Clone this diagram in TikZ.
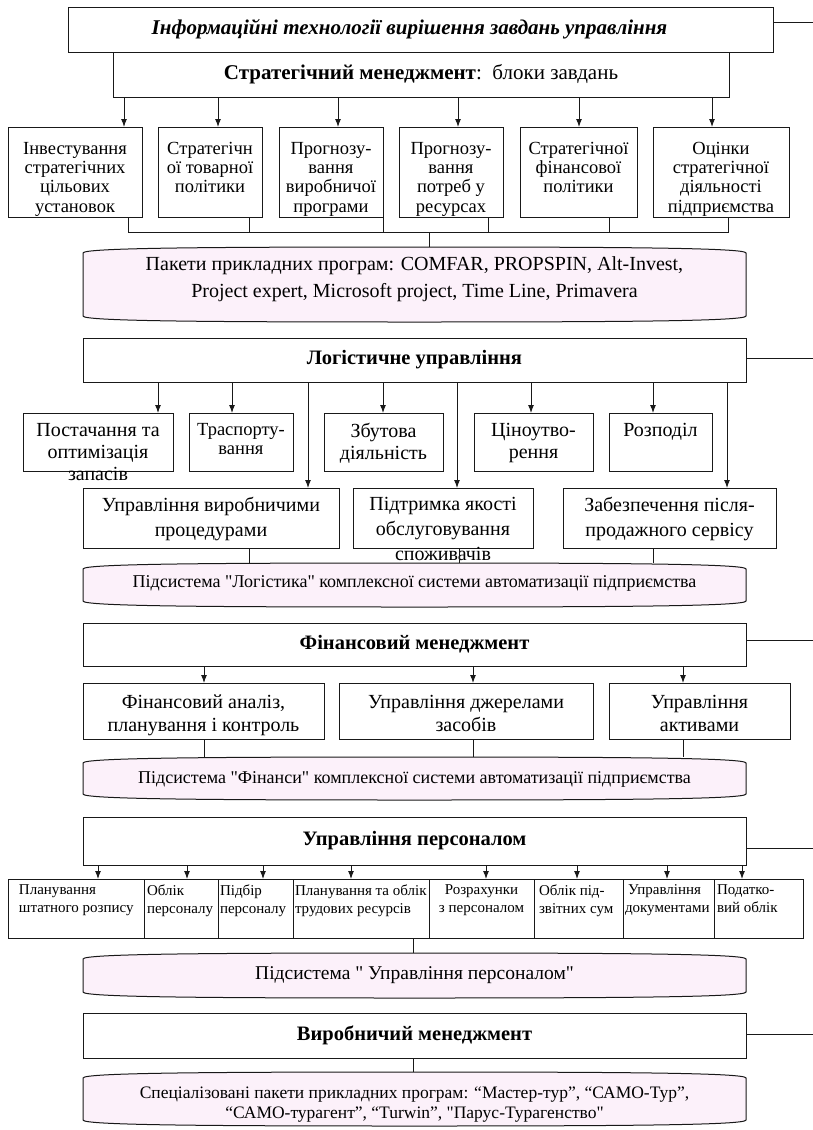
\documentclass[tikz,border=0pt]{standalone}
\usepackage{fontspec}
\setmainfont{Liberation Serif}
% same face without the TeX input mapping, so that " stays a straight quote
\newfontfamily\plainfam{Liberation Serif}[Ligatures=ResetAll]
\usetikzlibrary{arrows.meta,calc,backgrounds}

\definecolor{ink}{RGB}{25,25,25}
\definecolor{pkgfill}{RGB}{252,241,250}

\newcommand\fsz[2]{\fontsize{#1}{#2}\selectfont}
\newcommand\dq{{\plainfam\char34}}

% framed block with text set from its top edge: name, x1, y1, x2, y2, top pad, format, text
\newcommand\tb[8]{%
  \node[cell] (#1) at ({(#2+#4)/2},{(#3+#5)/2})
    {\parbox[c][\dimexpr#5pt-#3pt\relax][t]{\dimexpr#4pt-#2pt\relax}{\vspace*{#6pt}#7#8\par}};}

% heading block with centred text: name, x1, y1, x2, y2, text
\newcommand\hb[6]{%
  \node[cell,minimum width={#4-#2},minimum height={#5-#3},font=\fsz{20.5}{24}\bfseries] (#1)
    at ({(#2+#4)/2},{(#3+#5)/2}) {#6};}

% software package block with bulged top and bottom: name, x1, y1, x2, y2, text options, text
\newcommand\pk[7]{%
  \node[pkgbox,minimum width={#4-#2},minimum height={#5-#3},
        label={[pkgtext,#6]center:{#7}}] (#1)
    at ({(#2+#4)/2},{(#3+#5)/2}) {};
  \begin{pgfonlayer}{background}
    \path[pkgshape]
      ($(#1.north west)+(0,6)$) .. controls ($(#1.north west)+(0,1)$) and ($(#1.north west)!0.35!(#1.north)$) .. (#1.north)
      .. controls ($(#1.north east)!0.35!(#1.north)$) and ($(#1.north east)+(0,1)$) .. ($(#1.north east)+(0,6)$)
      -- ($(#1.south east)-(0,6)$)
      .. controls ($(#1.south east)-(0,1)$) and ($(#1.south east)!0.35!(#1.south)$) .. (#1.south)
      .. controls ($(#1.south west)!0.35!(#1.south)$) and ($(#1.south west)-(0,1)$) .. ($(#1.south west)-(0,6)$)
      -- cycle;
  \end{pgfonlayer}}

\begin{document}
\begin{tikzpicture}[x=1pt,y=-1pt,
  cell/.style={draw=ink,line width=1pt,inner sep=0pt,outer sep=0pt,text=black},
  pkgbox/.style={inner sep=0pt,outer sep=0pt},
  pkgtext/.style={inner sep=0pt,outer sep=0pt,align=center,text=black},
  pkgshape/.style={fill=pkgfill,draw=ink,line width=1pt},
  link/.style={draw=ink,line width=1pt},
  arr/.style={link,-{Latex[length=8pt,width=6pt]}}]
\useasboundingbox (0,0) rectangle (813,1130);

% ---------------- strategic management
\hb{top}{68}{7}{773}{52}{\fontsize{21}{24}\selectfont\itshape Інформаційні технології вирішення завдань управління\hspace*{22pt}}
\hb{strat}{113}{52}{729}{97}{\fontsize{21}{24}\selectfont Стратегічний менеджмент\mdseries:\ \ блоки завдань}

\tb{s1}{8}{127}{142}{217}{15}{\fsz{18.5}{19.3}\centering}{Інвестування\\стратегічних\\цільових\\установок}
\tb{s2}{158}{127}{262}{217}{15}{\fsz{18.5}{19.3}\centering}{Стратегічн\\ої товарної\\політики}
\tb{s3}{279}{127}{383}{217}{15}{\fsz{18.5}{19.3}\centering}{Прогнозу-\\вання\\виробничої\\програми}
\tb{s4}{399}{127}{503}{217}{15}{\fsz{18.5}{19.3}\centering}{Прогнозу-\\вання\\потреб у\\ресурсах}
\tb{s5}{520}{127}{637}{217}{15}{\fsz{18.5}{19.3}\centering}{Стратегічної\\фінансової\\політики}
\tb{s6}{653}{127}{789}{217}{15}{\fsz{18.5}{19.3}\centering}{Оцінки\\стратегічної\\діяльності\\підприємства}

\pk{c1}{83}{247}{746}{322}{font=\fsz{20}{27},yshift=5pt}{Пакети прикладних програм: COMFAR, PROPSPIN, Alt-Invest,\\Project expert, Microsoft project, Time Line, Primavera}

\foreach \n/\x in {s1/124,s2/218,s3/338,s4/458,s5/579,s6/712}
  \draw[arr] (strat.south -| \x,0) -- (\n.north -| \x,0);
\coordinate (bus) at (429,232);
\foreach \n/\x in {s1/128,s2/249,s3/383,s4/488,s5/609,s6/728}
  \draw[link] (\n.south -| \x,0) |- (bus);
\draw[link] (bus) -- (c1.north -| bus);

% ---------------- logistics
\hb{log}{83}{338}{746}{382}{Логістичне управління}

\tb{a1}{23}{413}{173}{471}{10}{\fsz{20}{22}\centering}{Постачання та\\оптимізація\\запасів}
\tb{a2}{189}{413}{293}{471}{10}{\fsz{18.5}{19}\centering}{Траспорту-\\вання}
\tb{a3}{324}{413}{443}{471}{10}{\fsz{20}{22}\centering}{Збутова\\діяльність}
\tb{a4}{474}{413}{593}{471}{10}{\fsz{20}{22}\centering}{Ціноутво-\\рення}
\tb{a5}{609}{413}{712}{471}{10}{\fsz{20}{22}\centering}{Розподіл}

\tb{b1}{83}{488}{339}{548}{9}{\fsz{20}{25}\centering}{Управління виробничими\\процедурами}
\tb{b2}{353}{488}{533}{548}{9}{\fsz{20}{25}\centering}{Підтримка якості\\обслуговування\\споживачів}
\tb{b3}{563}{488}{776}{548}{9}{\fsz{20}{25}\centering}{Забезпечення після-\\продажного сервісу}

\pk{c2}{83}{563}{746}{607}{font=\fsz{18}{22},yshift=2pt}{Підсистема \dq Логістика\dq{} комплексної системи автоматизації підприємства}

\foreach \n/\x in {a1/158,a2/232,a3/383,a4/531,a5/653}
  \draw[arr] (log.south -| \x,0) -- (\n.north -| \x,0);
\foreach \n/\x in {b1/308,b2/457,b3/727}
  \draw[arr] (log.south -| \x,0) -- (\n.north -| \x,0);
\foreach \n/\x in {b1/249,b2/459,b3/653}
  \draw[link] (\n.south -| \x,0) -- (c2.north -| \x,0);

% ---------------- financial management
\hb{fin}{83}{623}{746}{666}{Фінансовий менеджмент}

\tb{f1}{83}{683}{324}{739}{12}{\fsz{20}{23}\centering}{Фінансовий аналіз,\\планування і контроль}
\tb{f2}{339}{683}{593}{739}{12}{\fsz{20}{23}\centering}{Управління джерелами\\засобів}
\tb{f3}{609}{683}{790}{739}{12}{\fsz{20}{23}\centering}{Управління\\активами}

\pk{c3}{83}{757}{746}{800}{font=\fsz{18}{22},yshift=-1pt}{Підсистема \dq Фінанси\dq{} комплексної системи автоматизації підприємства}

\foreach \n/\x in {f1/204,f2/473,f3/683}{
  \draw[arr] (fin.south -| \x,0) -- (\n.north -| \x,0);
  \draw[link] (\n.south -| \x,0) -- (c3.north -| \x,0);}

% ---------------- personnel management
\hb{pers}{83}{817}{746}{865}{Управління персоналом}

\tb{d1}{8}{879}{144}{938}{6}{\fsz{15}{18}\raggedright\leftskip=11pt}{\mbox{Планування}\\\mbox{штатного розпису}}
\tb{d2}{144}{879}{218}{938}{6}{\fsz{15}{18}\raggedright\leftskip=3pt}{\mbox{Облік}\\\mbox{персоналу}}
\tb{d3}{218}{879}{293}{938}{6}{\fsz{15}{18}\raggedright\leftskip=2pt}{\mbox{Підбір}\\\mbox{персоналу}}
\tb{d4}{293}{879}{429}{938}{6}{\fsz{15}{18}\raggedright\leftskip=2pt}{\mbox{Планування та облік}\\\mbox{трудових ресурсів}}
\tb{d5}{429}{879}{534}{938}{6}{\fsz{15}{18}\centering}{\mbox{Розрахунки}\\\mbox{з персоналом}}
\tb{d6}{534}{879}{623}{938}{6}{\fsz{15}{18}\raggedright\leftskip=5pt}{\mbox{Облік під-}\\\mbox{звітних сум}}
\tb{d7}{623}{879}{714}{938}{6}{\fsz{15}{18}\raggedright\leftskip=2pt}{\mbox{\hspace*{3pt}Управління}\\\mbox{документами}}
\tb{d8}{714}{879}{803}{938}{6}{\fsz{15}{18}\raggedright\leftskip=3pt}{\mbox{Податко-}\\\mbox{вий облік}}

\pk{c4}{83}{953}{746}{998}{font=\fsz{19.5}{22}}{Підсистема \dq{} Управління персоналом\dq}

\foreach \n/\x in {d1/98,d2/187,d3/263,d4/351,d5/486,d6/577,d7/667,d8/742}
  \draw[arr] (pers.south -| \x,0) -- (\n.north -| \x,0);
\draw[link] (d4.south -| 413,0) -- (c4.north -| 413,0);

% ---------------- production management
\hb{prod}{83}{1013}{746}{1058}{Виробничий менеджмент}

\pk{c5}{83}{1072}{746}{1126}{font=\fsz{17.5}{20},yshift=-6pt}{Спеціалізовані пакети прикладних програм: “Мастер-тур”, “САМО-Тур”,\\“САМО-турагент”, “Turwin”, \dq Парус-Турагенство\dq}

\draw[link] (prod.south -| 413,0) -- (c5.north -| 413,0);

% ---------------- links to the right margin
\foreach \n/\y in {top/22,log/358,fin/640,pers/848,prod/1034}{
  \coordinate (edge-\n) at (813,\y);
  \draw[link] (\n.east |- edge-\n) -- (edge-\n);}
\end{tikzpicture}
\end{document}
